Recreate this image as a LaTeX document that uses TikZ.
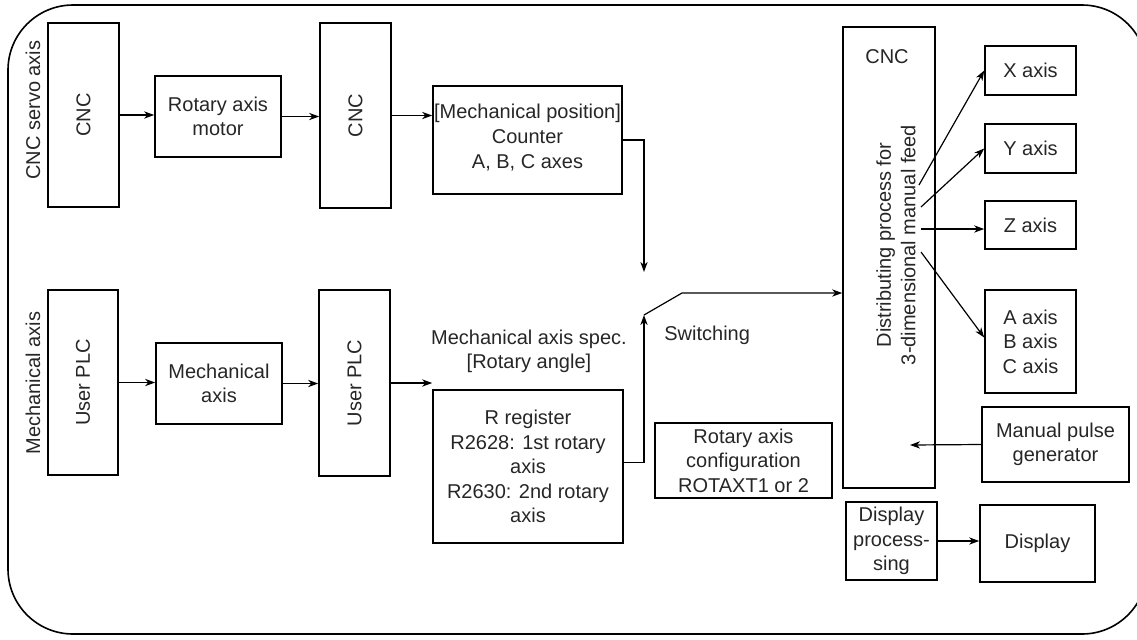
\documentclass[tikz,border=0pt]{standalone}
\usepackage{fontspec}
\setmainfont{Liberation Sans}
\usetikzlibrary{arrows.meta}
\begin{document}
\begin{tikzpicture}[x=0.5pt,y=-0.5pt,
  txt/.style={font=\fontsize{10}{12.3}\selectfont, text=black!85, align=center, inner sep=0pt},
  box/.style={txt, draw=black, line width=0.8pt},
  arr/.style={line width=0.6pt, -{Stealth[length=5pt,width=3.6pt,inset=1.5pt]}},
  ln/.style={line width=0.6pt}]
\useasboundingbox (0,0) rectangle (1137,639);
\draw[line width=0.8pt, rounded corners=32.5pt] (8,5) rectangle (1147,634);

% side labels
\node[txt, rotate=90] (lservo) at (33,110) {CNC servo axis};
\node[txt, rotate=90] (lmech) at (33,383) {Mechanical axis};

% upper row
\node[box, minimum width=35.5pt, minimum height=92pt] (cnc1) at (83.5,115) {};
\node[txt, rotate=90] (cnc1t) at (cnc1) {CNC};
\node[box, minimum width=63pt, minimum height=40.5pt] (ram) at (218,116.5) {Rotary axis\\motor};
\node[box, minimum width=35.5pt, minimum height=92.5pt] (cnc2) at (355.5,115.5) {};
\node[txt, rotate=90] (cnc2t) at (cnc2) {CNC};
\node[box, minimum width=94.5pt, minimum height=54pt] (mpos) at (527.5,140) {};
\node[txt] (mpost) at (527.5,137.5) {{[}Mechanical position{]}\\Counter\\A, B, C axes};

% lower row
\node[box, minimum width=35pt, minimum height=92.5pt] (plc1) at (83,382.5) {};
\node[txt, rotate=90] (plc1t) at (plc1) {User PLC};
\node[box, minimum width=63pt, minimum height=40.5pt] (mech) at (219,383.5) {Mechanical\\axis};
\node[box, minimum width=35.5pt, minimum height=93pt] (plc2) at (354.5,383) {};
\node[txt, rotate=90] (plc2t) at (plc2) {User PLC};
\node[txt] (spec) at (529,351.5) {Mechanical axis spec.\\{[}Rotary angle{]}};
\node[box, minimum width=95pt, minimum height=76.5pt] (rreg) at (528,466.5) {R register\\R2628: 1st rotary\\axis\\R2630: 2nd rotary\\axis};
\node[box, minimum width=88.5pt, minimum height=37.5pt] (rac) at (743.5,460.5) {Rotary axis\\configuration\\ROTAXT1 or 2};
\node[txt, anchor=west] (sw) at (664,335) {Switching};

% right part
\node[box, minimum width=46pt, minimum height=230.5pt] (cnc3) at (889,257.5) {};
\node[txt] (cnc3t) at (887,57) {CNC};
\node[txt, rotate=90] (dist) at (896,245) {Distributing process for\\3-dimensional manual feed};
\node[box, minimum width=45.5pt, minimum height=24.5pt] (xax) at (1030.5,70.5) {X axis};
\node[box, minimum width=45.5pt, minimum height=24.5pt] (yax) at (1030.5,148.5) {Y axis};
\node[box, minimum width=45.5pt, minimum height=24pt] (zax) at (1030.5,225) {Z axis};
\node[box, minimum width=45.5pt, minimum height=51.5pt] (abc) at (1030.5,341.5) {A axis\\B axis\\C axis};
\node[box, minimum width=73.5pt, minimum height=37.5pt] (mpg) at (1055.5,444.5) {Manual pulse\\generator};
\node[box, minimum width=45.5pt, minimum height=39pt] (dproc) at (891.5,541) {Display\\process-\\sing};
\node[box, minimum width=57.5pt, minimum height=38.5pt] (disp) at (1037.5,543.5) {Display};

% coordinates
\coordinate (swtop) at (644,272);
\coordinate (swbot) at (644,315);
\coordinate (swk) at (682,293);
\coordinate (fx) at (919,185);
\coordinate (fy) at (921,207);
\coordinate (fz) at (921,229);
\coordinate (fa) at (921,252);
\coordinate (mpgend) at (910,445);

% connectors
\draw[arr] (cnc1.east) -- (cnc1.east -| ram.west);
\draw[arr] (ram.east) -- (ram.east -| cnc2.west);
\draw[arr] (cnc2.east) -- (cnc2.east -| mpos.west);
\draw[arr] (mpos.east) -| (swtop);
\draw[arr] (plc1.east) -- (plc1.east -| mech.west);
\draw[arr] (mech.east) -- (mech.east -| plc2.west);
\draw[arr] (plc2.east) -- (plc2.east -| rreg.west);
\draw[arr] ([yshift=2pt]rreg.east) -| (swbot);
\draw[arr] (swbot) -- (swk) -- (swk -| cnc3.west);
\draw[arr] (fx) -- (xax.west);
\draw[arr] (fy) -- (yax.west);
\draw[arr] (fz) -- (fz -| zax.west);
\draw[arr] (fa) -- ([yshift=2pt]abc.west);
\draw[arr] (mpg.west) -- (mpgend);
\draw[arr] (dproc.east) -- (dproc.east -| disp.west);
\end{tikzpicture}
\end{document}
